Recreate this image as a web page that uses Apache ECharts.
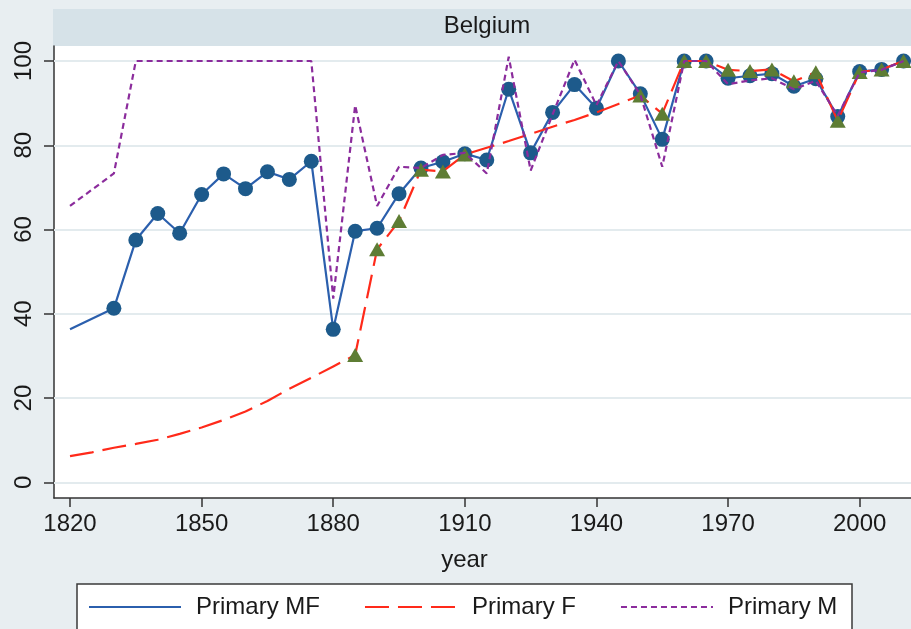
<!DOCTYPE html>
<html>
<head>
<meta charset="utf-8">
<script src="https://cdn.jsdelivr.net/npm/echarts@6/dist/echarts.min.js"></script>
<style>
html,body{margin:0;padding:0;background:#e8eef1;}
#chart{width:911px;height:629px;}
</style>
</head>
<body>
<div id="chart"></div>
<script>
// ---- data ----
const chartTitle = 'Belgium';
const xTickValues = [1820, 1850, 1880, 1910, 1940, 1970, 2000];
const yTickValues = [0, 20, 40, 60, 80, 100];

const mfYears = [1820, 1830, 1835, 1840, 1845, 1850, 1855, 1860, 1865, 1870, 1875, 1880, 1885, 1890, 1895, 1900, 1905, 1910, 1915, 1920, 1925, 1930, 1935, 1940, 1945, 1950, 1955, 1960, 1965, 1970, 1975, 1980, 1985, 1990, 1995, 2000, 2005, 2010];
const primaryMF = [36.3, 41.3, 57.5, 63.8, 59.1, 68.3, 73.2, 69.7, 73.7, 71.9, 76.2, 36.3, 59.6, 60.3, 68.5, 74.6, 76.1, 78.0, 76.5, 93.3, 78.2, 87.8, 94.4, 88.8, 100, 92.2, 81.4, 100, 100, 95.9, 96.5, 97.0, 94.0, 95.8, 86.8, 97.5, 98.0, 100];
const mfUnmarkedYears = [1820];

const fYears = [1820, 1825, 1830, 1835, 1840, 1845, 1850, 1855, 1860, 1865, 1870, 1875, 1880, 1885, 1890, 1895, 1900, 1905, 1910, 1915, 1920, 1925, 1930, 1935, 1940, 1945, 1950, 1955, 1960, 1965, 1970, 1975, 1980, 1985, 1990, 1995, 2000, 2005, 2010];
const primaryF = [6.2, 7.1, 8.2, 9.1, 10.1, 11.5, 13.0, 14.8, 16.8, 19.3, 22.2, 24.8, 27.5, 30.2, 55.3, 62.0, 74.2, 73.8, 77.8, 79.4, 81.0, 82.7, 84.4, 86.0, 87.8, 89.8, 91.8, 87.5, 100, 100, 97.9, 97.6, 98.0, 95.2, 97.3, 85.8, 97.4, 98.0, 100];
const fObservedYears = [1885, 1890, 1895, 1900, 1905, 1910, 1950, 1955, 1960, 1965, 1970, 1975, 1980, 1985, 1990, 1995, 2000, 2005, 2010];

const mYears = [1820, 1830, 1835, 1840, 1845, 1850, 1855, 1860, 1865, 1870, 1875, 1880, 1885, 1890, 1895, 1900, 1905, 1910, 1915, 1920, 1925, 1930, 1935, 1940, 1945, 1950, 1955, 1960, 1965, 1970, 1975, 1980, 1985, 1990, 1995, 2000, 2005, 2010];
const primaryM = [65.6, 73.3, 100, 100, 100, 100, 100, 100, 100, 100, 100, 43.6, 89.5, 65.6, 74.9, 74.6, 77.7, 78.2, 73.3, 101.0, 74.0, 87.3, 100.3, 89.5, 100, 92.0, 74.9, 100, 100, 94.5, 95.4, 95.9, 93.3, 95.3, 87.0, 97.3, 97.9, 100];

const seriesNames = ['Primary MF', 'Primary F', 'Primary M'];
const xAxisName = 'year';

// ---- chart ----
const FONT = '"Liberation Sans", Arial, Helvetica, sans-serif';
const TXT = '#1a1a1a';
const chart = echarts.init(document.getElementById('chart'), null, {renderer: 'canvas'});

const mfData = mfYears.map((y, i) => ({
  value: [y, primaryMF[i]],
  symbol: mfUnmarkedYears.includes(y) ? 'none' : 'circle'
}));
const fData = fYears.map((y, i) => ({
  value: [y, primaryF[i]],
  symbol: fObservedYears.includes(y) ? 'triangle' : 'none'
}));
const mData = mYears.map((y, i) => [y, primaryM[i]]);

const option = {
  animation: false,
  backgroundColor: '#e8eef1',
  title: {
    text: chartTitle,
    left: 487,
    top: 14,
    padding: 0,
    textAlign: 'center',
    textStyle: {fontFamily: FONT, fontSize: 24, fontWeight: 'normal', color: TXT}
  },
  graphic: [
    {type: 'rect', z: -10, shape: {x: 53, y: 9, width: 860, height: 37}, style: {fill: '#d6e2e8'}},
    {type: 'rect', z: 0, shape: {x: 77, y: 584, width: 775, height: 60}, style: {fill: '#ffffff', stroke: '#3a3a3a', lineWidth: 1.5}}
  ],
  legend: {
    left: 88,
    top: 595,
    padding: 0,
    itemWidth: 92,
    itemHeight: 24,
    itemGap: 44,
    selectedMode: false,
    itemStyle: {opacity: 0},
    textStyle: {fontFamily: FONT, fontSize: 24, color: TXT, padding: [0, 0, 0, 10], lineHeight: 24},
    data: seriesNames
  },
  grid: {
    left: 54, right: 0, top: 46, bottom: 131,
    show: true, backgroundColor: '#ffffff', borderWidth: 0
  },
  xAxis: {
    type: 'value',
    min: 1816.35,
    max: 2011.7,
    name: xAxisName,
    nameLocation: 'middle',
    nameGap: 50,
    nameTextStyle: {fontFamily: FONT, fontSize: 24, color: TXT, padding: [0, 36, 0, 0]},
    axisLine: {show: true, onZero: false, lineStyle: {color: '#333', width: 1.5}},
    axisTick: {show: true, length: 9, customValues: xTickValues, lineStyle: {color: '#333', width: 1.5}},
    axisLabel: {customValues: xTickValues, margin: 14, fontFamily: FONT, fontSize: 24, color: TXT, formatter: v => String(v)},
    splitLine: {show: false}
  },
  yAxis: {
    type: 'value',
    min: -3.73,
    max: 103.56,
    axisLine: {show: true, onZero: false, lineStyle: {color: '#333', width: 1.5}},
    axisTick: {show: true, length: 10, customValues: yTickValues, lineStyle: {color: '#333', width: 1.5}},
    axisLabel: {customValues: yTickValues, rotate: 90, margin: 18, fontFamily: FONT, fontSize: 24, color: TXT, formatter: v => String(v)},
    splitLine: {show: false}
  },
  series: [
    {
      name: seriesNames[0],
      type: 'line',
      data: mfData,
      symbol: 'circle',
      symbolSize: 15,
      showSymbol: true,
      showAllSymbol: true,
      connectNulls: true,
      lineStyle: {color: '#2b5fad', width: 2.2},
      itemStyle: {color: '#1d5a8b', borderWidth: 0},
      emphasis: {disabled: true},
      z: 2,
      markLine: {
        silent: true,
        z: 1,
        symbol: 'none',
        label: {show: false},
        lineStyle: {color: '#e3ebee', width: 2, type: 'solid'},
        emphasis: {disabled: true},
        data: yTickValues.map(v => ({yAxis: v}))
      }
    },
    {
      name: seriesNames[1],
      type: 'line',
      data: fData,
      symbol: 'triangle',
      symbolSize: [16, 14],
      showSymbol: true,
      showAllSymbol: true,
      lineStyle: {color: '#ff2a1a', width: 2.2, type: [24, 9]},
      itemStyle: {color: '#5e7d34', borderWidth: 0},
      emphasis: {disabled: true},
      z: 3
    },
    {
      name: seriesNames[2],
      type: 'line',
      data: mData,
      symbol: 'none',
      lineStyle: {color: '#8b2c9c', width: 2.2, type: [6, 4]},
      itemStyle: {color: '#8b2c9c'},
      emphasis: {disabled: true},
      z: 4
    }
  ]
};
chart.setOption(option);
</script>
</body>
</html>
